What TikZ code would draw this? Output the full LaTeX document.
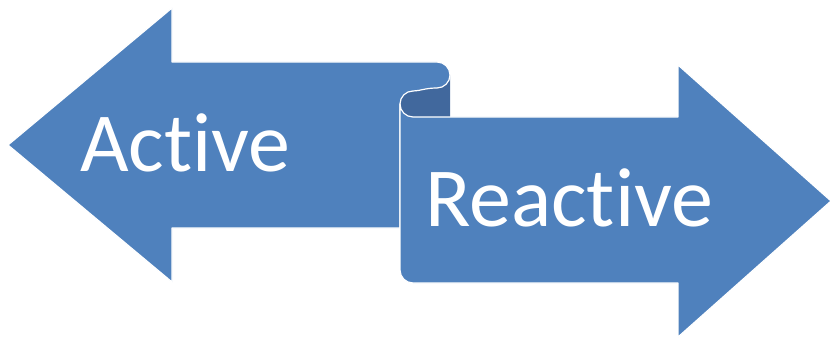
\documentclass[tikz,border=0pt]{standalone}
\usepackage{fontspec}
\setmainfont{Carlito}[Ligatures=NoCommon]
\usepackage{tikz}
\usetikzlibrary{positioning}
\definecolor{bandblue}{HTML}{4F81BD}
\definecolor{backblue}{HTML}{41689D}
\tikzstyle{band} = [fill=bandblue, draw=white, line width=1.2pt, line join=round]
\tikzstyle{backside} = [fill=backblue]
\tikzstyle{word} = [anchor=base west, inner sep=0pt, text=white, font=\fontsize{84}{90}\selectfont]

\begin{document}
\begin{tikzpicture}[x=1pt, y=1pt]
    \useasboundingbox (0,0) rectangle (831,338);
    % back of the scroll
    \path [backside] (450,263) -- (450,221) -- (413,221)
        arc[start angle=-90, end angle=-270, radius=13]
        .. controls (420,247) and (425,250) .. (437,250)
        arc[start angle=-90, end angle=0, radius=13] -- cycle;
    % left arrow
    \path [band] (8,193) -- (172,330) -- (172,276) -- (437,276)
        arc[start angle=90, end angle=-90, radius=13]
        .. controls (425,250) and (420,247) .. (413,247)
        arc[start angle=90, end angle=180, radius=13]
        -- (400,110) -- (172,110) -- (172,56) -- cycle;
    % right arrow
    \path [band] (413,221) -- (678,221) -- (678,273) -- (831,137) -- (678,1) -- (678,55) -- (413,55)
        arc[start angle=270, end angle=180, radius=13]
        -- (400,234) arc[start angle=180, end angle=270, radius=13] -- cycle;

    \node (active) [word] at (80,166) {Active};
    \node (reactive) [word] at (425,112) {Reactive};
\end{tikzpicture}
\end{document}
